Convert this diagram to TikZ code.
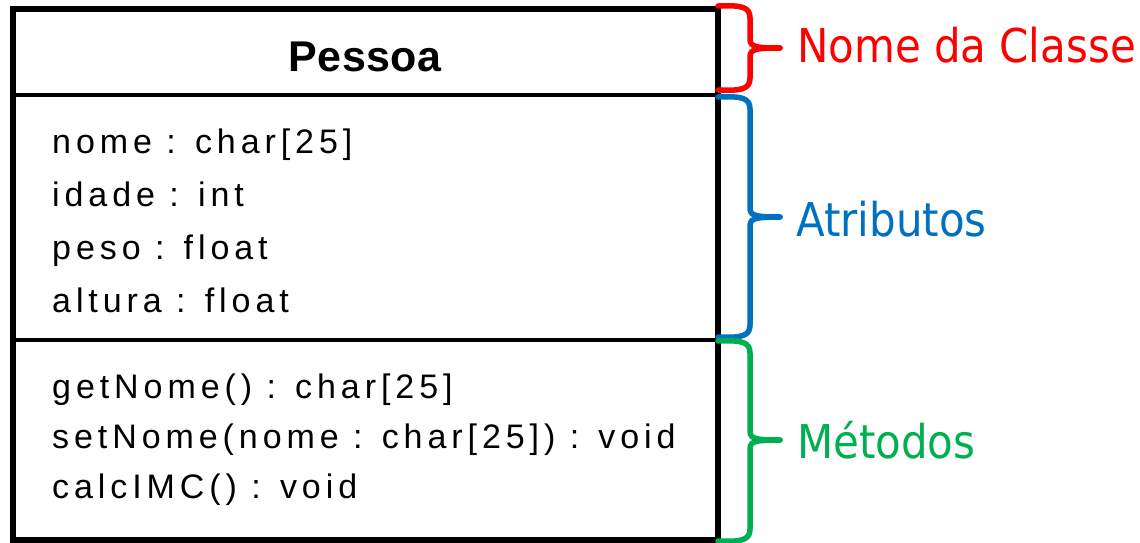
\documentclass[tikz,border=0pt]{standalone}
\usepackage{fontspec}
\setmainfont{Liberation Sans}
\newfontfamily\umlfont{Liberation Sans}[LetterSpace=14.5]
\newfontfamily\umlbold{Liberation Sans}[LetterSpace=1]
\newfontfamily\notefont{DejaVu Sans Condensed}
\definecolor{notered}{HTML}{FF0000}
\definecolor{noteblue}{HTML}{0070C0}
\definecolor{notegreen}{HTML}{00B050}
\tikzset{
  classframe/.style={line width=6pt},
  classrule/.style={line width=3.5pt},
  member/.style={anchor=base west, inner sep=0pt, font=\umlfont\fontsize{34}{34}\selectfont},
  classtitle/.style={anchor=base, inner sep=0pt, font=\umlbold\bfseries\fontsize{43}{43}\selectfont},
  bracepath/.style={line width=5.5pt, line cap=round, line join=round},
  notetext/.style={anchor=base west, inner sep=0pt, font=\notefont\fontsize{46.6}{46.6}\selectfont}
}
% draws a curly brace hugging the class frame: #1 top y, #2 tip y, #3 bottom y
\newcommand{\sidebrace}[4]{%
  \draw[bracepath,#4] (718,#1) .. controls (742,#1-1) and (750,#1+1) .. (750,#1+12)
    -- (750,#2-10) .. controls (750,#2-2) and (752,#2) .. (780,#2);
  \draw[bracepath,#4] (780,#2) .. controls (752,#2) and (750,#2+2) .. (750,#2+10)
    -- (750,#3-12) .. controls (750,#3-1) and (742,#3+1) .. (718,#3);
}
\begin{document}
\begin{tikzpicture}[x=1pt,y=-1pt]
\useasboundingbox (0,0) rectangle (1140,543);
% class box
\coordinate (nw) at (13,9.5);
\coordinate (se) at (717.5,539.5);
\coordinate (r1w) at (13,95);
\coordinate (r1e) at (717.5,95);
\coordinate (r2w) at (13,340);
\coordinate (r2e) at (717.5,340);
\draw[classrule] (r1w) -- (r1e);
\draw[classrule] (r2w) -- (r2e);
\draw[classframe] (nw) rectangle (se);
% class name
\node[classtitle] (title) at (365,71) {Pessoa};
% attributes
\node[member] (a1) at (52,153) {nome : char[25]};
\node[member] (a2) at (52,206) {idade : int};
\node[member] (a3) at (52,259) {peso : float};
\node[member] (a4) at (52,312) {altura : float};
% methods
\node[member] (m1) at (52,398.5) {getNome() : char[25]};
\node[member] (m2) at (52,448.5) {setNome(nome : char[25]) : void};
\node[member] (m3) at (52,498.5) {calcIMC() : void};
% annotations
\sidebrace{6}{48}{90}{notered}
\sidebrace{97}{217}{337}{noteblue}
\sidebrace{341}{440}{541}{notegreen}
\node[notetext,text=notered] (lname) at (797,63) {Nome da Classe};
\node[notetext,text=noteblue] (lattr) at (796,236) {Atributos};
\node[notetext,text=notegreen] (lmeth) at (797,458) {Métodos};
\end{tikzpicture}
\end{document}
